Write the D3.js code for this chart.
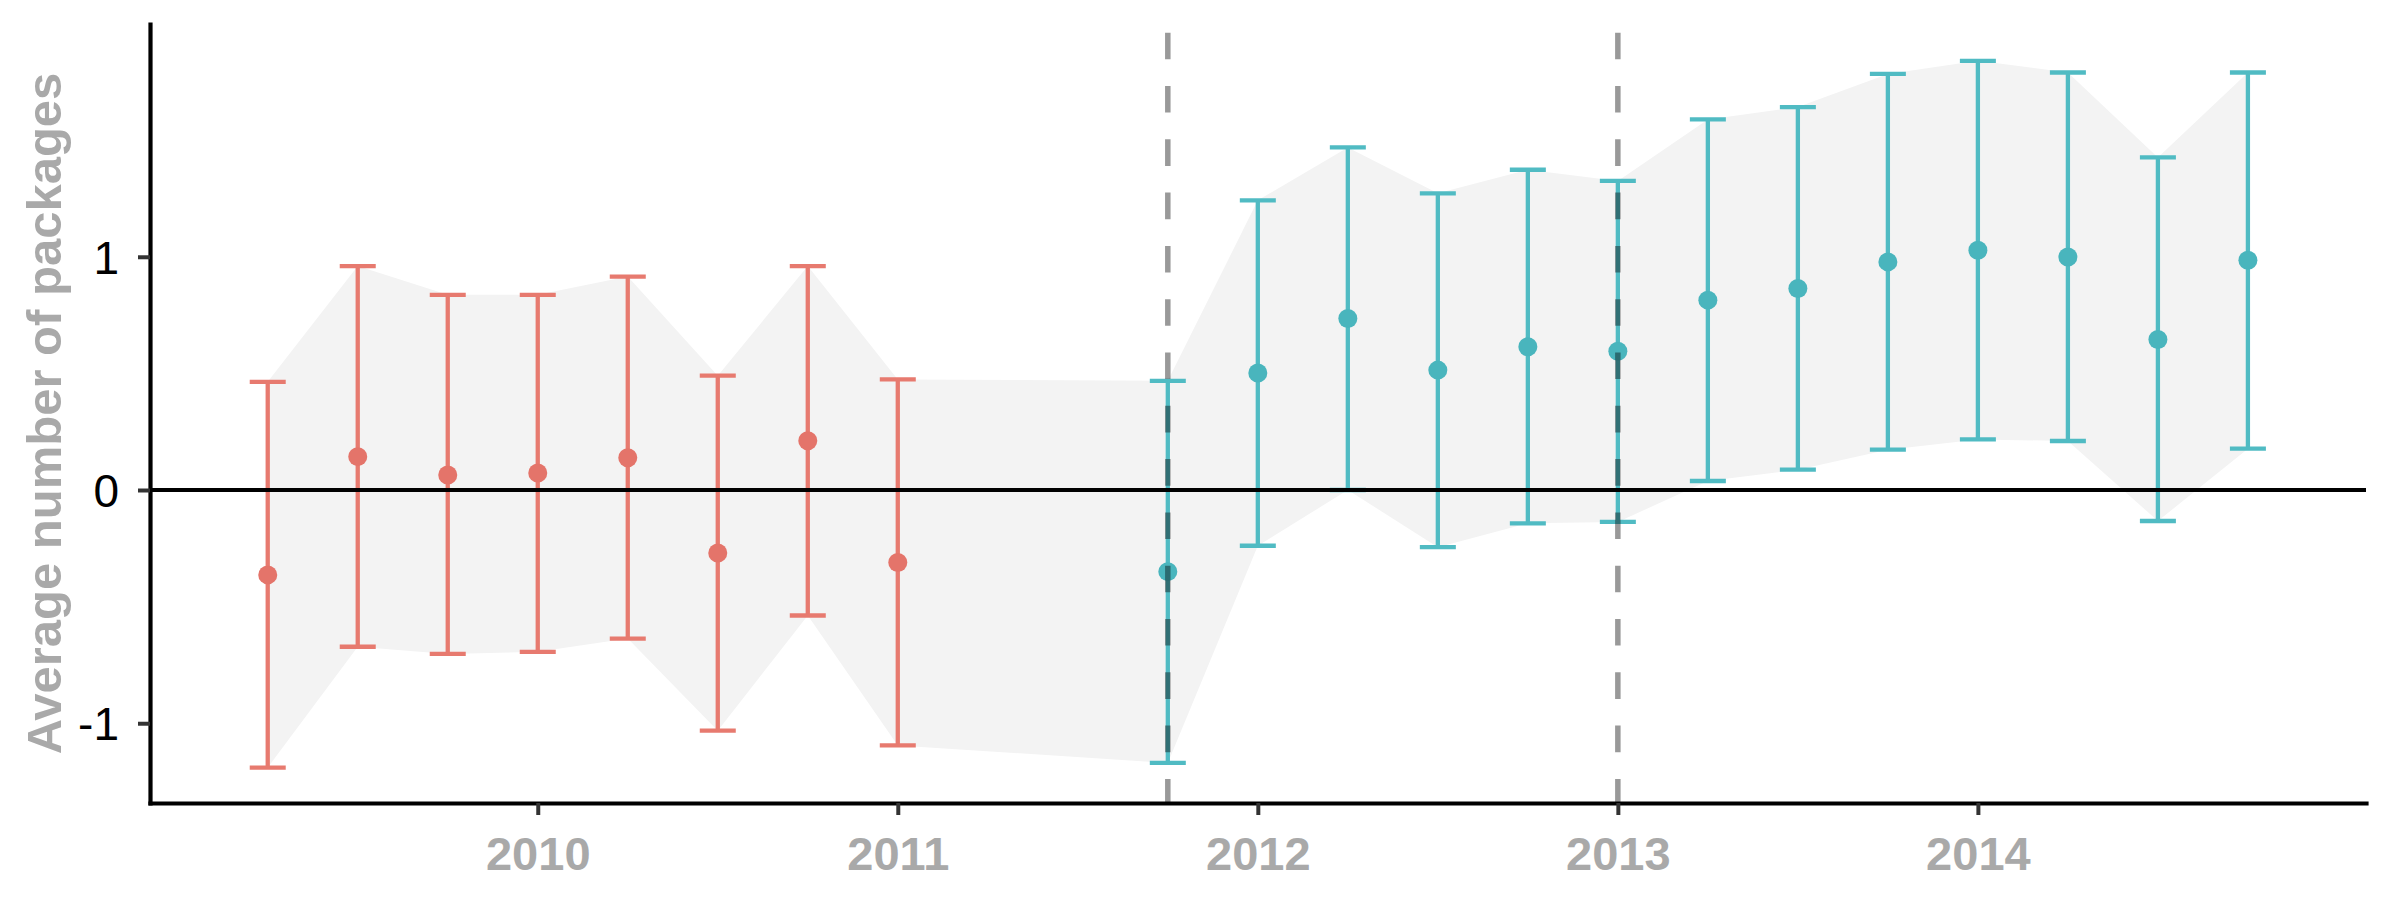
<!DOCTYPE html>
<html>
<head>
<meta charset="utf-8">
<script src="https://cdn.jsdelivr.net/npm/d3@7"></script>
<style>
  body { margin: 0; background: #fff; }
  svg { display: block; }
</style>
</head>
<body>
<svg id="chart"></svg>
<script>
// quarters before the break (red) and after (teal)
const redX = [2009.25, 2009.5, 2009.75, 2010, 2010.25, 2010.5, 2010.75, 2011];
const redMean = [-0.364, 0.143, 0.064, 0.073, 0.138, -0.27, 0.211, -0.311];
const redLow = [-1.19, -0.672, -0.703, -0.694, -0.637, -1.032, -0.538, -1.095];
const redHigh = [0.464, 0.96, 0.837, 0.837, 0.915, 0.49, 0.96, 0.474];

const tealX = [2011.75, 2012, 2012.25, 2012.5, 2012.75, 2013, 2013.25, 2013.5, 2013.75, 2014, 2014.25, 2014.5, 2014.75];
const tealMean = [-0.35, 0.502, 0.735, 0.514, 0.614, 0.595, 0.814, 0.864, 0.978, 1.028, 0.999, 0.645, 0.985];
const tealLow = [-1.17, -0.239, 0.0, -0.245, -0.143, -0.137, 0.0385, 0.087, 0.173, 0.217, 0.21, -0.133, 0.177];
const tealHigh = [0.468, 1.242, 1.469, 1.272, 1.373, 1.325, 1.589, 1.642, 1.784, 1.84, 1.79, 1.426, 1.79];

const breakLines = [2011.75, 2013];
const xTicks = [2010, 2011, 2012, 2013, 2014];
const yTicks = [-1, 0, 1];
const yTitle = "Average number of packages";

const width = 2392, height = 897;
const m = { left: 150, right: 2366, top: 24, bottom: 803 };

const svg = d3.select("#chart").attr("width", width).attr("height", height);

const x = d3.scaleLinear().domain([2008.923, 2015.078]).range([m.left, m.right]);
const y = d3.scaleLinear().domain([-1.342, 1.998]).range([m.bottom, m.top]);

const red = redX.map((d, i) => ({ x: d, m: redMean[i], lo: redLow[i], hi: redHigh[i], c: "#E77A6F", p: "#E4746A" }));
const teal = tealX.map((d, i) => ({ x: d, m: tealMean[i], lo: tealLow[i], hi: tealHigh[i], c: "#50BBC3", p: "#49B5BD" }));
const all = red.concat(teal);

// ribbon through the interval ends
const area = d3.area()
  .x(d => x(d.x))
  .y0(d => y(d.lo))
  .y1(d => y(d.hi));

svg.append("path")
  .datum(all)
  .attr("d", area)
  .attr("fill", "#F3F3F3");

// error bars
const capHalf = 18;
const bars = svg.selectAll(".bar")
  .data(all)
  .enter()
  .append("g")
  .attr("class", "bar")
  .attr("stroke", d => d.c)
  .attr("stroke-width", 4.3);

bars.append("line")
  .attr("x1", d => x(d.x)).attr("x2", d => x(d.x))
  .attr("y1", d => y(d.lo)).attr("y2", d => y(d.hi));
bars.append("line")
  .attr("x1", d => x(d.x) - capHalf).attr("x2", d => x(d.x) + capHalf)
  .attr("y1", d => y(d.hi)).attr("y2", d => y(d.hi));
bars.append("line")
  .attr("x1", d => x(d.x) - capHalf).attr("x2", d => x(d.x) + capHalf)
  .attr("y1", d => y(d.lo)).attr("y2", d => y(d.lo));

// means
svg.selectAll(".pt")
  .data(all)
  .enter()
  .append("circle")
  .attr("class", "pt")
  .attr("cx", d => x(d.x))
  .attr("cy", d => y(d.m))
  .attr("r", 9.5)
  .attr("fill", d => d.p);

// zero line
svg.append("line")
  .attr("x1", m.left).attr("x2", m.right)
  .attr("y1", y(0)).attr("y2", y(0))
  .attr("stroke", "#000")
  .attr("stroke-width", 4);

// dashed break lines
svg.selectAll(".brk")
  .data(breakLines)
  .enter()
  .append("line")
  .attr("class", "brk")
  .attr("x1", d => x(d)).attr("x2", d => x(d))
  .attr("y1", m.top).attr("y2", m.bottom)
  .attr("stroke", "#000")
  .attr("stroke-opacity", 0.4)
  .attr("stroke-width", 5.5)
  .attr("stroke-dasharray", "26.6 26.7")
  .attr("stroke-dashoffset", 44.6);

// axes
const xAxis = svg.append("g")
  .attr("transform", `translate(0,${m.bottom})`)
  .call(d3.axisBottom(x).tickValues(xTicks).tickFormat(d => String(d)).tickSize(12).tickSizeOuter(0).tickPadding(22));

const yAxis = svg.append("g")
  .attr("transform", `translate(${m.left},0)`)
  .call(d3.axisLeft(y).tickValues(yTicks).tickFormat(d => String(d)).tickSize(12).tickSizeOuter(0).tickPadding(19));

[xAxis, yAxis].forEach(g => {
  g.select(".domain")
    .attr("stroke", "#000")
    .attr("stroke-width", 4.2)
    .attr("stroke-linecap", "square");
  g.selectAll(".tick line")
    .attr("stroke", "#333")
    .attr("stroke-width", 4);
});

xAxis.selectAll(".tick text")
  .attr("fill", "#A9A9A9")
  .style("font-family", "'Liberation Sans', Arial, sans-serif")
  .style("font-size", "47px")
  .style("font-weight", "bold");

yAxis.selectAll(".tick text")
  .attr("fill", "#000")
  .attr("dy", "0.358em")
  .style("font-family", "'Liberation Sans', Arial, sans-serif")
  .style("font-size", "46px");

// y title
svg.append("text")
  .attr("transform", `translate(61,${(m.top + m.bottom) / 2}) rotate(-90)`)
  .attr("text-anchor", "middle")
  .attr("fill", "#A9A9A9")
  .style("font-family", "'Liberation Sans', Arial, sans-serif")
  .style("font-size", "49px")
  .style("font-weight", "bold")
  .text(yTitle);
</script>
</body>
</html>
